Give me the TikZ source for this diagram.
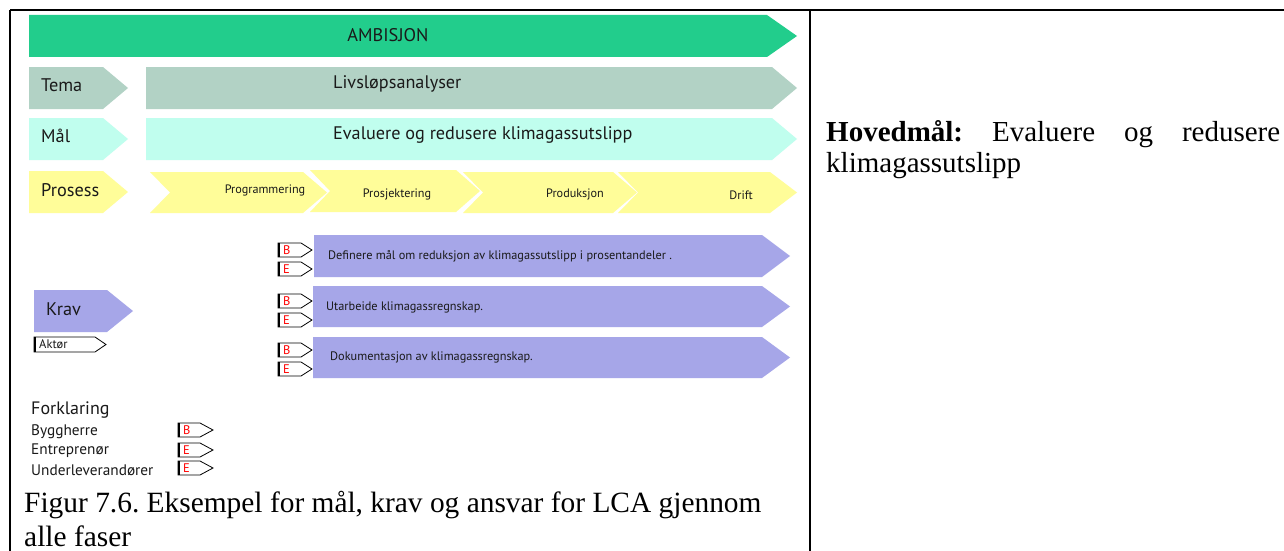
\documentclass[tikz,border=0pt]{standalone}
\usepackage{fontspec}
\setmainfont{Liberation Serif}
\newfontfamily\dsans{PT Sans}
\definecolor{ambgreen}{HTML}{22CD8C}
\definecolor{temagrey}{HTML}{B2D2C5}
\definecolor{malmint}{HTML}{C0FEEE}
\definecolor{prosyellow}{HTML}{FFFD99}
\definecolor{kravblue}{HTML}{A6A6E8}
\definecolor{textdark}{HTML}{1A1A1A}

% font size in px-sized points
\newcommand\fsz[1]{\fontsize{#1}{#1}\selectfont}

% filled arrow: x1, y1, x2 (body end), y2, tip length, notch depth, colour
\newcommand\arrowshape[7]{%
  \fill[#7] (#1,#2) -- (#3,#2) -- ({#3+#5},{(#2+#4)/2}) -- (#3,#4) -- (#1,#4)
    -- ({#1+#6},{(#2+#4)/2}) -- cycle;}

% outlined tag: name, x, y, body width, height, tip, label, label colour
\newcommand\tagshape[8]{%
  \draw[line width=0.8pt,black] (#2,#3) -- ({#2+#4},#3) -- ({#2+#4+#6},{#3+#5/2})
    -- ({#2+#4},{#3+#5}) -- (#2,{#3+#5}) -- cycle;
  \draw[line width=2pt,black] ({#2+0.6},#3) -- ({#2+0.6},{#3+#5});
  \node[anchor=west,inner sep=0pt,text=#8,font=\dsans\fsz{12.5}] (#1) at ({#2+5},{#3+#5/2}) {#7};}

\tikzset{
  lbl/.style={inner sep=0pt,text=textdark},
  rowlbl/.style={lbl,anchor=west,font=\dsans\fsz{18.3}},
  barlbl/.style={lbl,anchor=west,font=\dsans\fsz{18.2}},
  phaselbl/.style={lbl,font=\dsans\fsz{12.2}},
  kravlbl/.style={lbl,anchor=west,font=\dsans\fsz{12.3}},
  leglbl/.style={lbl,anchor=west,font=\dsans\fsz{15.3}},
  serifline/.style={inner sep=0pt,anchor=base west,font=\fsz{29}},
  capline/.style={inner sep=0pt,anchor=base west,font=\fsz{29.4}},
  border/.style={line width=2.2pt,black}
}

\begin{document}
\frenchspacing
\begin{tikzpicture}[x=1pt,y=-1pt]
\useasboundingbox (0,0) rectangle (1284,551);
\fill[white] (0,0) rectangle (1284,551);

% table frame
\draw[border] (10,10) -- (1284,10);
\draw[border] (10,10) -- (10,551);
\draw[border] (810,10) -- (810,551);

% ambition
\arrowshape{29}{15}{767}{57}{30}{0}{ambgreen}
\node[lbl,font=\dsans\fsz{18.3}] (amb) at (388,35) {AMBISJON};

% theme row
\arrowshape{29}{67}{103}{109}{25}{0}{temagrey}
\arrowshape{146}{67}{772}{109}{25}{0}{temagrey}
\node[rowlbl] (tema) at (41,85) {Tema};
\node[barlbl] (temabar) at (333,84) {Livsløpsanalyser};

% goal row
\arrowshape{29}{118}{103}{160}{25}{0}{malmint}
\arrowshape{146}{118}{772}{160}{25}{0}{malmint}
\node[rowlbl] (mal) at (41,136) {Mål};
\node[barlbl] (malbar) at (333,135) {Evaluere og redusere klimagassutslipp};

% process row
\arrowshape{29}{171}{103}{213}{25}{0}{prosyellow}
\node[rowlbl] (prosess) at (41,190) {Prosess};
\arrowshape{150}{172}{303}{213}{24}{20}{prosyellow}
\arrowshape{310}{170}{456}{212}{24}{20}{prosyellow}
\arrowshape{463}{172}{613}{213}{24}{20}{prosyellow}
\arrowshape{618}{172}{770}{213}{27}{20}{prosyellow}
\node[phaselbl] (p1) at (265,190) {Programmering};
\node[phaselbl] (p2) at (397,194) {Prosjektering};
\node[phaselbl] (p3) at (575,194) {Produksjon};
\node[phaselbl] (p4) at (741,195) {Drift};

% requirements
\arrowshape{34}{290}{107}{332}{26}{0}{kravblue}
\node[rowlbl] (krav) at (46,309) {Krav};
\tagshape{aktor}{34}{337}{61}{15}{11}{Aktør}{textdark}

\arrowshape{314}{235}{762}{277}{28}{0}{kravblue}
\arrowshape{313}{286}{762}{327}{28}{0}{kravblue}
\arrowshape{313}{337}{762}{378}{28}{0}{kravblue}
\node[kravlbl] (k1) at (328,256) {Definere mål om reduksjon av klimagassutslipp i prosentandeler .};
\node[kravlbl] (k2) at (326,307) {Utarbeide klimagassregnskap.};
\node[kravlbl] (k3) at (330,357) {Dokumentasjon av klimagassregnskap.};

\tagshape{k1b}{278}{243}{23}{14}{11}{B}{red}
\tagshape{k1e}{278}{262}{23}{14}{11}{E}{red}
\tagshape{k2b}{278}{294}{23}{14}{11}{B}{red}
\tagshape{k2e}{278}{313}{23}{14}{11}{E}{red}
\tagshape{k3b}{278}{343}{23}{14}{11}{B}{red}
\tagshape{k3e}{278}{362}{23}{14}{11}{E}{red}

% legend
\node[lbl,anchor=west,font=\dsans\fsz{18}] (fork) at (31,410) {Forklaring};
\node[leglbl] (byg) at (31,432) {Byggherre};
\node[leglbl] (ent) at (31,451) {Entreprenør};
\node[leglbl] (und) at (31,470) {Underleverandører};
\tagshape{lb}{178}{423}{22}{14}{13}{B}{red}
\tagshape{le}{178}{443}{22}{14}{13}{E}{red}
\tagshape{lu}{178}{461}{22}{14}{13}{E}{red}

% caption
\node[capline] (cap1) at (24,512)
  {Figur 7.6. Eksempel for mål, krav og ansvar for LCA gjennom};
\node[capline] (cap2) at (24,546) {alle faser};

% main goal in the right cell
\node[serifline] (hoved1) at (826,141)
  {\makebox[454pt][s]{\textbf{Hovedmål:} Evaluere og redusere}};
\node[serifline] (hoved2) at (826,172) {klimagassutslipp};
\end{tikzpicture}
\end{document}
